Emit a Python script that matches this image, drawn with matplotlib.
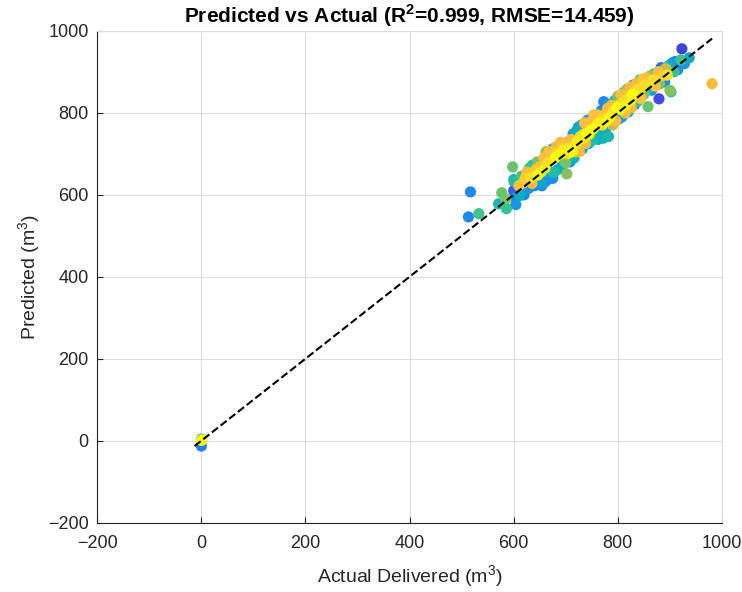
import numpy as np
import matplotlib
matplotlib.use("Agg")
import matplotlib.pyplot as plt
from matplotlib.colors import LinearSegmentedColormap

# actual delivered, predicted and colour value for each point
actual = [
    0, 0, 0, 1,
    513, 517, 533, 571, 577, 586, 585, 598, 600, 600, 602, 604, 604, 601,
    610, 612, 615, 617, 620, 622, 625, 628, 630, 632, 635, 636, 638, 640, 642, 645, 648, 650,
    652, 655, 658, 660, 646, 654, 661, 664, 662, 668, 675, 670,
    666, 668, 672, 675, 678, 680, 682, 685, 688, 690, 692, 695, 698, 700, 702, 700, 704, 706,
    708, 710, 712, 714, 716, 718, 720, 720, 690, 705, 696, 684,
    722, 724, 726, 728, 730, 732, 734, 736, 738, 740, 742, 744, 746, 748, 750, 752, 754, 756,
    758, 760, 762, 764, 766, 768, 770, 772, 773, 775, 778, 780, 783, 782, 779, 785, 788, 790,
    760, 745, 735, 770, 776,
    792, 794, 796, 798, 800, 802, 804, 806, 808, 810, 812, 814, 816, 818, 820, 822, 824, 826,
    828, 830, 832, 834, 836, 838, 840, 842, 844, 846, 848, 850, 815, 825, 805,
    852, 855, 858, 858, 860, 862, 865, 868, 870, 872, 875, 878, 879, 880, 883, 885, 888, 890,
    892, 895, 898, 900, 902, 905, 908, 910, 915, 921, 923, 928, 937, 981,
]
predicted = [
    -13, 4, 1, 2,
    546, 607, 554, 578, 605, 566, 590, 668, 637, 610, 607, 593, 576, 632,
    622, 598, 645, 628, 600, 640, 655, 615, 665, 642, 628, 672, 650, 622, 660, 680, 635, 668,
    655, 628, 690, 665, 648, 622, 632, 645, 705, 640, 640, 655,
    678, 705, 688, 712, 655, 690, 718, 662, 698, 728, 670, 708, 682, 678, 651, 722, 700, 730,
    680, 735, 705, 748, 690, 722, 755, 705, 700, 712, 715, 700,
    730, 765, 705, 742, 770, 712, 748, 775, 725, 750, 782, 725, 758, 778, 732, 760, 795, 738,
    768, 795, 735, 775, 745, 805, 770, 738, 827, 795, 780, 810, 820, 742, 815, 790, 818, 770,
    770, 748, 738, 785, 758,
    805, 830, 780, 812, 840, 785, 820, 845, 790, 825, 850, 800, 832, 858, 802, 840, 862, 812,
    845, 868, 820, 852, 872, 828, 858, 880, 835, 862, 882, 845, 818, 830, 808,
    868, 885, 815, 858, 875, 890, 855, 880, 895, 865, 885, 900, 834, 870, 910, 890, 905, 875,
    908, 892, 915, 855, 851, 922, 900, 925, 905, 929, 956, 920, 934, 871,
]
cval = [
    0.25, 0.55, 1.0, 0.95,
    0.3, 0.3, 0.62, 0.52, 0.68, 0.6, 0.7, 0.68, 0.52, 0.12, 0.18, 0.3, 0.35, 0.55,
    0.88, 0.45, 0.62, 0.86, 0.3, 0.92, 0.86, 0.35, 0.6, 0.95, 0.87, 0.5, 0.88, 0.3, 0.9, 0.7, 0.25, 0.88,
    0.98, 0.4, 0.87, 0.97, 0.99, 0.28, 0.32, 0.2, 0.75, 0.3, 0.33, 0.5,
    0.95, 0.88, 0.9, 0.4, 0.55, 1.0, 0.86, 0.45, 0.95, 0.87, 0.35, 0.98, 0.6, 0.7, 0.72, 0.88, 0.95, 0.45,
    0.35, 0.87, 1.0, 0.3, 0.5, 0.95, 0.45, 0.85, 0.99, 0.97, 0.9, 0.93,
    0.98, 0.4, 0.86, 0.95, 0.3, 0.45, 0.9, 0.87, 0.85, 1.0, 0.35, 0.4, 0.95, 0.87, 0.55, 1.0, 0.88, 0.2,
    0.95, 0.88, 0.5, 0.98, 0.45, 0.3, 0.95, 0.48, 0.28, 0.9, 1.0, 0.87, 0.45, 0.52, 0.3, 0.98, 0.86, 0.8,
    0.97, 0.99, 0.96, 0.93, 0.42,
    0.95, 0.55, 0.86, 1.0, 0.7, 0.35, 0.95, 0.88, 0.4, 0.92, 0.3, 0.87, 0.95, 0.75, 0.45, 0.9, 0.87, 0.86,
    1.0, 0.4, 0.2, 0.92, 0.86, 0.6, 0.95, 0.65, 0.88, 0.9, 0.88, 0.7, 0.98, 0.97, 0.99,
    0.95, 0.86, 0.68, 0.55, 0.9, 0.75, 0.35, 0.95, 0.6, 0.88, 0.2, 0.86, 0.12, 0.7, 0.2, 0.9, 0.55, 0.3,
    0.8, 0.95, 0.45, 0.72, 0.62, 0.35, 0.6, 0.25, 0.3, 0.6, 0.1, 0.35, 0.45, 0.86,
]

r2 = 0.999
rmse = 14.459

# rough parula
parula = LinearSegmentedColormap.from_list("parula", [
    (0.0, (0.2081, 0.1663, 0.5292)), (0.125, (0.2700, 0.2900, 0.9200)),
    (0.25, (0.1400, 0.4900, 0.9600)), (0.375, (0.0700, 0.6200, 0.8600)),
    (0.5, (0.0500, 0.7100, 0.7300)), (0.625, (0.2600, 0.7700, 0.5300)),
    (0.75, (0.6000, 0.7600, 0.3200)), (0.86, (0.9900, 0.7300, 0.2500)),
    (0.92, (0.9800, 0.8000, 0.2000)), (0.96, (0.9600, 0.8900, 0.1400)),
    (1.0, (0.9763, 0.9831, 0.0538)),
])

plt.rcParams["font.family"] = ["Liberation Sans", "DejaVu Sans"]
plt.rcParams["mathtext.fontset"] = "custom"
plt.rcParams["mathtext.rm"] = "Liberation Sans"
plt.rcParams["mathtext.bf"] = "Liberation Sans:bold"

x = np.array(actual, dtype=float)
y = np.array(predicted, dtype=float)
c = np.array(cval)
order = np.argsort(c, kind="stable")  # yellow points end up on top

fig = plt.figure(figsize=(7.42, 5.92), dpi=100)
ax = fig.add_axes([0.131, 0.117, 0.842, 0.831])
ax.scatter(x[order], y[order], s=65, c=c[order], cmap=parula, vmin=0, vmax=1,
           edgecolors="none", zorder=2)
lo = min(x.min(), y.min())
hi = max(x.max(), y.max())
ax.plot([lo, hi], [lo, hi], "k--", lw=1.5, zorder=3)

ax.set_xlim(-200, 1000)
ax.set_ylim(-200, 1000)
ax.set_xticks(np.arange(-200, 1001, 200))
ax.set_yticks(np.arange(-200, 1001, 200))
ax.grid(True, color="#dcdcdc", lw=0.8, zorder=0)
ax.set_axisbelow(True)
ax.tick_params(direction="in", length=4, labelsize=13, colors="#262626")
ax.tick_params(axis="x", pad=9)
ax.tick_params(axis="y", pad=6)
for s in ("left", "bottom"):
    ax.spines[s].set_color("#262626")
for s in ("top", "right"):
    ax.spines[s].set_color("#dcdcdc")

ax.set_xlabel("Actual Delivered (m$^3$)", fontsize=14, color="#262626", labelpad=8)
ax.set_ylabel("Predicted (m$^3$)", fontsize=14, color="#262626")
ax.set_title("Predicted vs Actual (R$^\\mathbf{2}$=%.3f, RMSE=%.3f)" % (r2, rmse),
             fontsize=15, fontweight="bold", pad=6)

fig.savefig("out.png", dpi=100)
plt.close(fig)
